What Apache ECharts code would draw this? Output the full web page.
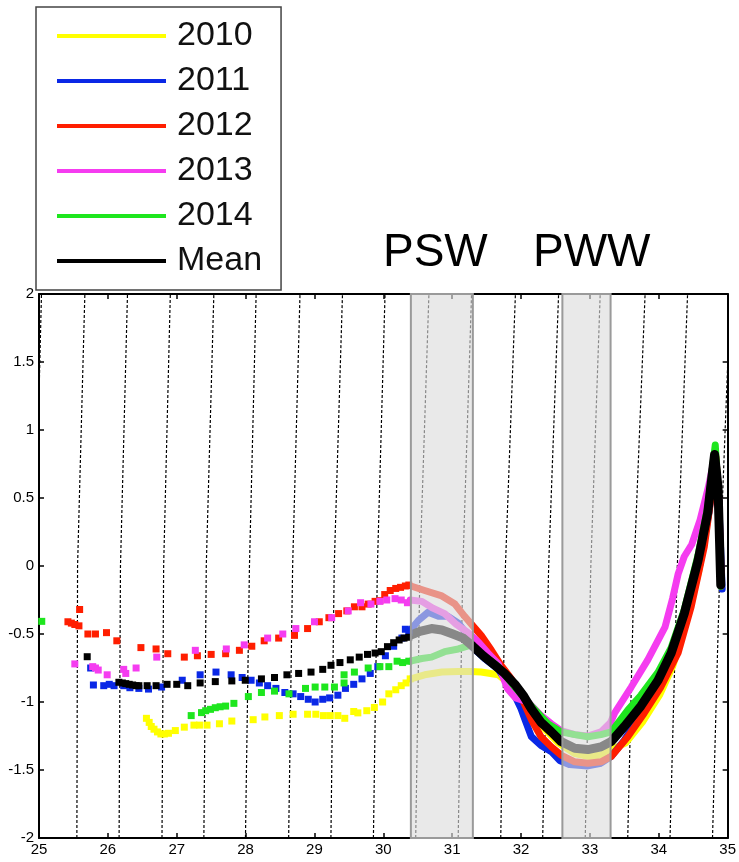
<!DOCTYPE html>
<html>
<head>
<meta charset="utf-8">
<title>T-S diagram</title>
<script src="https://cdn.jsdelivr.net/npm/echarts@6/dist/echarts.min.js"></script>
<style>
  html, body { margin: 0; padding: 0; background: #fff; }
  #chart { width: 739px; height: 862px; }
</style>
</head>
<body>
<div id="chart"></div>
<script>
// Salinity (x) / potential temperature (y) pairs for each survey year.
// "Sparse" points are the isolated casts at low salinity, "dense" points trace
// the nearly continuous profile at higher salinity.

const s2010 = [[26.56,-1.12],[26.60,-1.15],[26.63,-1.18],[26.67,-1.20],[26.72,-1.22],[26.77,-1.235],[26.82,-1.235],[26.88,-1.23],[26.98,-1.21],[27.11,-1.185],[27.25,-1.17],[27.33,-1.17],[27.44,-1.17],[27.62,-1.16],[27.80,-1.14],[28.11,-1.13],[28.28,-1.11],[28.49,-1.10],[28.69,-1.09],[28.90,-1.09],[29.02,-1.09],[29.13,-1.10],[29.23,-1.10],[29.34,-1.10],[29.44,-1.12],[29.57,-1.07],[29.63,-1.08],[29.76,-1.064],[29.87,-1.04],[29.99,-1.00],[30.08,-0.94],[30.18,-0.91],[30.26,-0.88],[30.33,-0.86],[30.39,-0.83]];
const d2010 = [[30.40,-0.83],[30.60,-0.80],[30.85,-0.78],[31.09,-0.775],[31.26,-0.775],[31.42,-0.78],[31.67,-0.80],[31.86,-0.88],[32.05,-1.02],[32.29,-1.17],[32.54,-1.30],[32.78,-1.38],[32.97,-1.40],[33.16,-1.39],[33.31,-1.35],[33.52,-1.30],[33.76,-1.15],[34.01,-0.95],[34.20,-0.74],[34.39,-0.42],[34.58,-0.04],[34.71,0.35],[34.81,0.78],[34.86,0.55],[34.90,-0.14]];

const s2011 = [[25.75,-0.75],[25.79,-0.875],[25.94,-0.88],[26.02,-0.87],[26.09,-0.88],[26.23,-0.88],[26.32,-0.895],[26.45,-0.90],[26.59,-0.905],[26.78,-0.89],[27.08,-0.84],[27.34,-0.80],[27.57,-0.78],[27.79,-0.80],[27.95,-0.82],[28.08,-0.84],[28.20,-0.86],[28.32,-0.88],[28.44,-0.90],[28.57,-0.93],[28.69,-0.94],[28.80,-0.96],[28.91,-0.98],[29.01,-1.00],[29.12,-0.98],[29.22,-0.97],[29.34,-0.95],[29.45,-0.90],[29.57,-0.87],[29.69,-0.83],[29.81,-0.79],[29.92,-0.74],[30.03,-0.66],[30.15,-0.59],[30.27,-0.53],[30.32,-0.465],[30.37,-0.49]];
const d2011 = [[30.38,-0.48],[30.51,-0.40],[30.65,-0.34],[30.80,-0.37],[30.94,-0.37],[31.09,-0.42],[31.23,-0.51],[31.30,-0.60],[31.47,-0.68],[31.67,-0.76],[31.86,-0.90],[32.00,-1.05],[32.05,-1.12],[32.15,-1.255],[32.29,-1.32],[32.44,-1.365],[32.56,-1.43],[32.70,-1.46],[32.97,-1.47],[33.16,-1.45],[33.31,-1.40],[33.50,-1.28],[33.74,-1.10],[33.99,-0.90],[34.20,-0.68],[34.40,-0.38],[34.60,0.02],[34.73,0.40],[34.82,0.78],[34.87,0.50],[34.92,-0.17]];

const s2012 = [[25.42,-0.41],[25.47,-0.42],[25.52,-0.43],[25.58,-0.44],[25.59,-0.32],[25.71,-0.50],[25.82,-0.50],[25.98,-0.49],[26.13,-0.55],[26.48,-0.60],[26.70,-0.61],[26.87,-0.645],[27.11,-0.67],[27.30,-0.66],[27.50,-0.65],[27.71,-0.645],[27.91,-0.62],[28.09,-0.59],[28.27,-0.55],[28.48,-0.53],[28.71,-0.51],[28.90,-0.46],[29.07,-0.41],[29.21,-0.38],[29.35,-0.35],[29.47,-0.33],[29.58,-0.30],[29.69,-0.30],[29.78,-0.28],[29.88,-0.26],[29.95,-0.255],[30.02,-0.21],[30.10,-0.18],[30.18,-0.165],[30.25,-0.157],[30.32,-0.147],[30.37,-0.14]];
const d2012 = [[30.39,-0.145],[30.60,-0.18],[30.85,-0.22],[31.04,-0.28],[31.18,-0.37],[31.30,-0.44],[31.42,-0.51],[31.57,-0.62],[31.71,-0.73],[31.86,-0.83],[32.00,-0.96],[32.15,-1.13],[32.29,-1.255],[32.44,-1.33],[32.58,-1.39],[32.78,-1.44],[32.97,-1.45],[33.16,-1.44],[33.31,-1.40],[33.55,-1.255],[33.79,-1.08],[34.03,-0.89],[34.28,-0.64],[34.47,-0.30],[34.66,0.14],[34.78,0.58],[34.83,0.80],[34.87,0.50],[34.91,-0.14]];

const s2013 = [[25.52,-0.72],[25.78,-0.74],[25.82,-0.75],[25.86,-0.765],[25.99,-0.80],[26.23,-0.76],[26.26,-0.79],[26.41,-0.75],[26.71,-0.67],[27.27,-0.62],[27.72,-0.61],[27.98,-0.58],[28.32,-0.53],[28.54,-0.50],[28.73,-0.46],[29.00,-0.41],[29.25,-0.38],[29.49,-0.33],[29.67,-0.27],[29.82,-0.28],[29.95,-0.26],[30.05,-0.25],[30.17,-0.24],[30.26,-0.25],[30.35,-0.27]];
const d2013 = [[30.39,-0.25],[30.56,-0.26],[30.72,-0.31],[30.89,-0.35],[31.06,-0.43],[31.23,-0.49],[31.38,-0.56],[31.52,-0.64],[31.67,-0.72],[31.80,-0.90],[31.92,-0.97],[32.10,-1.00],[32.29,-1.10],[32.44,-1.16],[32.58,-1.21],[32.78,-1.24],[32.97,-1.25],[33.16,-1.22],[33.30,-1.15],[33.36,-1.08],[33.60,-0.89],[33.84,-0.69],[34.09,-0.45],[34.20,-0.24],[34.28,-0.06],[34.37,0.07],[34.48,0.16],[34.60,0.34],[34.72,0.58],[34.81,0.80],[34.86,0.50],[34.90,-0.15]];

const s2014 = [[25.04,-0.407],[27.21,-1.10],[27.36,-1.078],[27.42,-1.064],[27.49,-1.054],[27.56,-1.042],[27.63,-1.035],[27.71,-1.03],[27.83,-1.01],[28.04,-0.96],[28.23,-0.93],[28.42,-0.92],[28.63,-0.94],[28.87,-0.90],[29.01,-0.89],[29.15,-0.89],[29.29,-0.89],[29.43,-0.86],[29.43,-0.80],[29.58,-0.78],[29.78,-0.75],[29.95,-0.74],[30.08,-0.74],[30.20,-0.70],[30.28,-0.71],[30.37,-0.70]];
const d2014 = [[30.39,-0.70],[30.56,-0.68],[30.70,-0.67],[30.89,-0.63],[31.09,-0.61],[31.28,-0.58],[31.42,-0.65],[31.57,-0.70],[31.67,-0.74],[31.91,-0.89],[32.15,-1.03],[32.39,-1.16],[32.58,-1.22],[32.78,-1.24],[32.97,-1.255],[33.16,-1.24],[33.31,-1.22],[33.55,-1.06],[33.74,-0.95],[33.99,-0.78],[34.18,-0.60],[34.37,-0.32],[34.57,0.08],[34.71,0.43],[34.82,0.89],[34.86,0.55],[34.90,-0.15]];

const sMean = [[25.70,-0.667],[26.16,-0.855],[26.21,-0.86],[26.26,-0.865],[26.31,-0.87],[26.36,-0.875],[26.41,-0.88],[26.45,-0.88],[26.57,-0.88],[26.70,-0.88],[26.86,-0.87],[27.00,-0.87],[27.16,-0.88],[27.34,-0.86],[27.56,-0.85],[27.80,-0.845],[27.995,-0.84],[28.23,-0.83],[28.42,-0.82],[28.60,-0.80],[28.77,-0.79],[28.95,-0.78],[29.12,-0.76],[29.24,-0.73],[29.37,-0.71],[29.52,-0.69],[29.65,-0.67],[29.77,-0.65],[29.88,-0.64],[29.97,-0.63],[30.06,-0.593],[30.15,-0.564],[30.23,-0.544],[30.30,-0.53],[30.37,-0.524]];
const dMean = [[30.39,-0.51],[30.53,-0.48],[30.70,-0.46],[30.85,-0.47],[31.01,-0.50],[31.16,-0.53],[31.30,-0.59],[31.45,-0.66],[31.62,-0.73],[31.76,-0.79],[31.91,-0.87],[32.03,-0.95],[32.15,-1.05],[32.29,-1.15],[32.44,-1.22],[32.58,-1.29],[32.78,-1.34],[32.97,-1.35],[33.16,-1.33],[33.31,-1.29],[33.50,-1.18],[33.74,-1.03],[33.99,-0.84],[34.18,-0.64],[34.37,-0.35],[34.57,0.04],[34.71,0.39],[34.81,0.82],[34.86,0.58],[34.90,-0.14]];

// Isopycnals: salinity where each density contour crosses T = -2, 0 and 2 degC
const isoTemps = [-2, 0, 2];
const isoAtMinus2 = [24.93, 25.550, 26.163, 26.786, 27.394, 27.998, 28.625, 29.239, 29.856, 30.470, 31.087, 31.705, 32.314, 32.932, 33.549, 34.163, 34.780];
const isoAtZero   = [24.94, 25.560, 26.183, 26.810, 27.429, 28.056, 28.683, 29.287, 29.914, 30.532, 31.155, 31.773, 32.401, 33.013, 33.642, 34.269, 34.887];
const isoAtPlus2  = [25.036, 25.666, 26.285, 26.907, 27.539, 28.153, 28.790, 29.407, 30.025, 30.662, 31.281, 31.918, 32.545, 33.149, 33.801, 34.418, 35.040];

// Salinity ranges of the two water masses
const pswRange = [30.4, 31.3];
const pwwRange = [32.6, 33.3];

const FONT = '"Liberation Sans", Arial, Helvetica, sans-serif';

const groups = [
  { name: '2010', color: '#ffff00', sparse: s2010, dense: d2010, width: 7 },
  { name: '2011', color: '#0a28e6', sparse: s2011, dense: d2011, width: 7 },
  { name: '2012', color: '#ff1e00', sparse: s2012, dense: d2012, width: 7 },
  { name: '2013', color: '#f53cf0', sparse: s2013, dense: d2013, width: 7 },
  { name: '2014', color: '#1ee61e', sparse: s2014, dense: d2014, width: 7 },
  { name: 'Mean', color: '#000000', sparse: sMean, dense: dMean, width: 9 }
];

const series = [];

// dotted density contours
for (let i = 0; i < isoAtZero.length; i++) {
  const cols = [isoAtMinus2[i], isoAtZero[i], isoAtPlus2[i]];
  series.push({
    type: 'line',
    silent: true,
    z: 1,
    symbol: 'none',
    data: isoTemps.map((t, k) => [cols[k], t]),
    lineStyle: { color: '#000', width: 1.2, type: [3, 2] }
  });
}

groups.forEach(g => {
  series.push({
    name: g.name,
    type: 'scatter',
    z: 2,
    color: g.color,
    symbol: 'rect',
    symbolSize: 7,
    data: g.sparse,
    itemStyle: { color: g.color, opacity: 1 }
  });
  series.push({
    name: g.name,
    type: 'line',
    z: 2,
    color: g.color,
    symbol: 'none',
    showSymbol: false,
    data: g.dense,
    lineStyle: { color: g.color, width: g.width, join: 'round', cap: 'round' }
  });
});

// translucent water-mass bands drawn over everything
series.push({
  type: 'line',
  z: 10,
  silent: true,
  data: [],
  markArea: {
    z: 10,
    silent: true,
    itemStyle: { color: 'rgba(219,219,219,0.62)', borderColor: '#9a9a9a', borderWidth: 2 },
    data: [
      [{ xAxis: pswRange[0], yAxis: -2 }, { xAxis: pswRange[1], yAxis: 2 }],
      [{ xAxis: pwwRange[0], yAxis: -2 }, { xAxis: pwwRange[1], yAxis: 2 }]
    ]
  }
});

const axisLine = { show: true, onZero: false, lineStyle: { color: '#000', width: 2 } };
const tick = { show: true, inside: true, length: 5, lineStyle: { color: '#000', width: 1.5 } };

const chart = echarts.init(document.getElementById('chart'), null, { renderer: 'canvas' });
chart.setOption({
  animation: false,
  backgroundColor: '#fff',
  grid: { left: 39, top: 294, width: 690.5, height: 544, containLabel: false },
  legend: {
    data: groups.map(g => g.name),
    orient: 'vertical',
    left: 36,
    top: 7,
    icon: 'rect',
    itemWidth: 109,
    itemHeight: 4,
    itemGap: 11,
    padding: [12, 19, 12, 21],
    backgroundColor: '#fff',
    borderColor: '#444',
    borderWidth: 1.5,
    selectedMode: false,
    textStyle: { fontFamily: FONT, fontSize: 34, color: '#111', padding: [0, 0, 0, 6] }
  },
  xAxis: [
    {
      type: 'value', min: 25, max: 35, interval: 1,
      axisLine, axisTick: tick, splitLine: { show: false },
      axisLabel: { color: '#000', fontFamily: FONT, fontSize: 15, margin: 4 }
    },
    {
      type: 'value', position: 'top', min: 25, max: 35, interval: 1,
      axisLine, axisTick: tick, splitLine: { show: false }, axisLabel: { show: false }
    }
  ],
  yAxis: [
    {
      type: 'value', min: -2, max: 2, interval: 0.5,
      axisLine, axisTick: tick, splitLine: { show: false },
      axisLabel: { color: '#000', fontFamily: FONT, fontSize: 15, margin: 5 }
    },
    {
      type: 'value', position: 'right', min: -2, max: 2, interval: 0.5,
      axisLine, axisTick: tick, splitLine: { show: false }, axisLabel: { show: false }
    }
  ],
  graphic: [
    { type: 'text', left: 383, top: 230, style: { text: 'PSW', font: '46px ' + FONT, fill: '#000' } },
    { type: 'text', left: 533, top: 230, style: { text: 'PWW', font: '46px ' + FONT, fill: '#000' } }
  ],
  series
});
</script>
</body>
</html>
